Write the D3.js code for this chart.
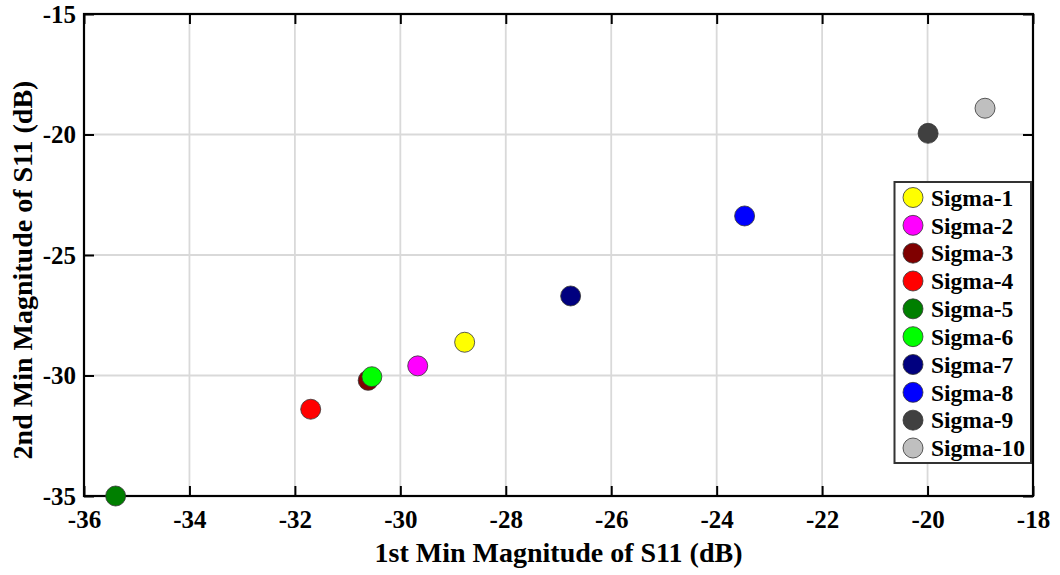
<!DOCTYPE html>
<html>
<head>
<meta charset="utf-8">
<script src="https://cdn.jsdelivr.net/npm/d3@7"></script>
<style>
  html, body { margin: 0; padding: 0; background: #fff; }
  svg { display: block; }
  text { font-family: "Liberation Serif", "Times New Roman", serif; font-weight: bold; }
</style>
</head>
<body>
<svg id="chart" width="1060" height="575"></svg>
<script>
// Series: one point per Sigma configuration
const names = ["Sigma-1","Sigma-2","Sigma-3","Sigma-4","Sigma-5","Sigma-6","Sigma-7","Sigma-8","Sigma-9","Sigma-10"];
const firstMin  = [-28.78, -29.67, -30.61, -31.70, -35.40, -30.54, -26.77, -23.47, -19.99, -18.91];
const secondMin = [-28.62, -29.60, -30.20, -31.40, -35.00, -30.05, -26.70, -23.38, -19.95, -18.91];
const colors = ["#ffff00","#ff00ff","#7f0000","#ff0000","#007f00","#00ff00","#00007f","#0000ff","#404040","#bfbfbf"];

const xTicks = [-36,-34,-32,-30,-28,-26,-24,-22,-20,-18];
const yTicks = [-35,-30,-25,-20,-15];

const svg = d3.select("#chart");
const L = 84, R = 1033, T = 14, B = 496;

const x = d3.scaleLinear().domain([-36, -18]).range([L, R]);
const y = d3.scaleLinear().domain([-35, -15]).range([B, T]);

// grid
const grid = svg.append("g");
grid.selectAll("line.gx").data(xTicks).join("line")
  .attr("x1", d => x(d)).attr("x2", d => x(d)).attr("y1", T).attr("y2", B)
  .attr("stroke", "#d9d9d9").attr("stroke-width", 1.8);
grid.selectAll("line.gy").data(yTicks).join("line")
  .attr("y1", d => y(d)).attr("y2", d => y(d)).attr("x1", L).attr("x2", R)
  .attr("stroke", "#d9d9d9").attr("stroke-width", 1.8);

// axes (ticks inward, mirrored on top/right)
const tickLen = 10;
const fmt = d => String(d);
const axisStyle = g => {
  g.selectAll(".domain").remove();
  g.selectAll(".tick line").attr("stroke", "#000").attr("stroke-width", 2);
  g.selectAll(".tick text").attr("font-size", 25).attr("fill", "#000")
    .style("font-family", '"Liberation Serif", "Times New Roman", serif').style("font-weight", "bold");
};
svg.append("g").attr("transform", `translate(0,${B})`)
  .call(d3.axisBottom(x).tickValues(xTicks).tickSizeInner(-tickLen).tickSizeOuter(0).tickPadding(14).tickFormat(fmt))
  .call(axisStyle);
svg.append("g").attr("transform", `translate(0,${T})`)
  .call(d3.axisTop(x).tickValues(xTicks).tickSizeInner(-tickLen).tickSizeOuter(0).tickFormat(""))
  .call(axisStyle);
svg.append("g").attr("transform", `translate(${L},0)`)
  .call(d3.axisLeft(y).tickValues(yTicks).tickSizeInner(-tickLen).tickSizeOuter(0).tickPadding(8).tickFormat(fmt))
  .call(axisStyle);
svg.append("g").attr("transform", `translate(${R},0)`)
  .call(d3.axisRight(y).tickValues(yTicks).tickSizeInner(-tickLen).tickSizeOuter(0).tickFormat(""))
  .call(axisStyle);

// frame
svg.append("rect").attr("x", L).attr("y", T).attr("width", R - L).attr("height", B - T)
  .attr("fill", "none").attr("stroke", "#000").attr("stroke-width", 2.2);

// points
const pts = names.map((n, i) => ({ n, x: firstMin[i], y: secondMin[i], c: colors[i] }));
svg.append("g").selectAll("circle").data(pts).join("circle")
  .attr("cx", d => x(d.x)).attr("cy", d => y(d.y)).attr("r", 10)
  .attr("fill", d => d.c).attr("stroke", "#333").attr("stroke-width", 0.8);

// axis titles
svg.append("text").attr("x", (L + R) / 2).attr("y", 562).attr("text-anchor", "middle")
  .attr("font-size", 28).text("1st Min Magnitude of S11 (dB)");
svg.append("text").attr("transform", `translate(32,${(T + B) / 2 + 15}) rotate(-90)`).attr("text-anchor", "middle")
  .attr("font-size", 28).text("2nd Min Magnitude of S11 (dB)");

// legend
const lg = svg.append("g");
lg.append("rect").attr("x", 894.5).attr("y", 182).attr("width", 136.5).attr("height", 281)
  .attr("fill", "#fff").attr("stroke", "#333").attr("stroke-width", 2);
const rowY = d3.scaleLinear().domain([0, 9]).range([197.5, 448]);
const rows = lg.selectAll("g.row").data(pts).join("g").attr("transform", (d, i) => `translate(0,${rowY(i)})`);
rows.append("circle").attr("cx", 913).attr("cy", 0).attr("r", 10)
  .attr("fill", d => d.c).attr("stroke", "#333").attr("stroke-width", 0.8);
rows.append("text").attr("x", 931).attr("y", 0).attr("dy", "0.35em").attr("font-size", 23.5).text(d => d.n);
</script>
</body>
</html>
